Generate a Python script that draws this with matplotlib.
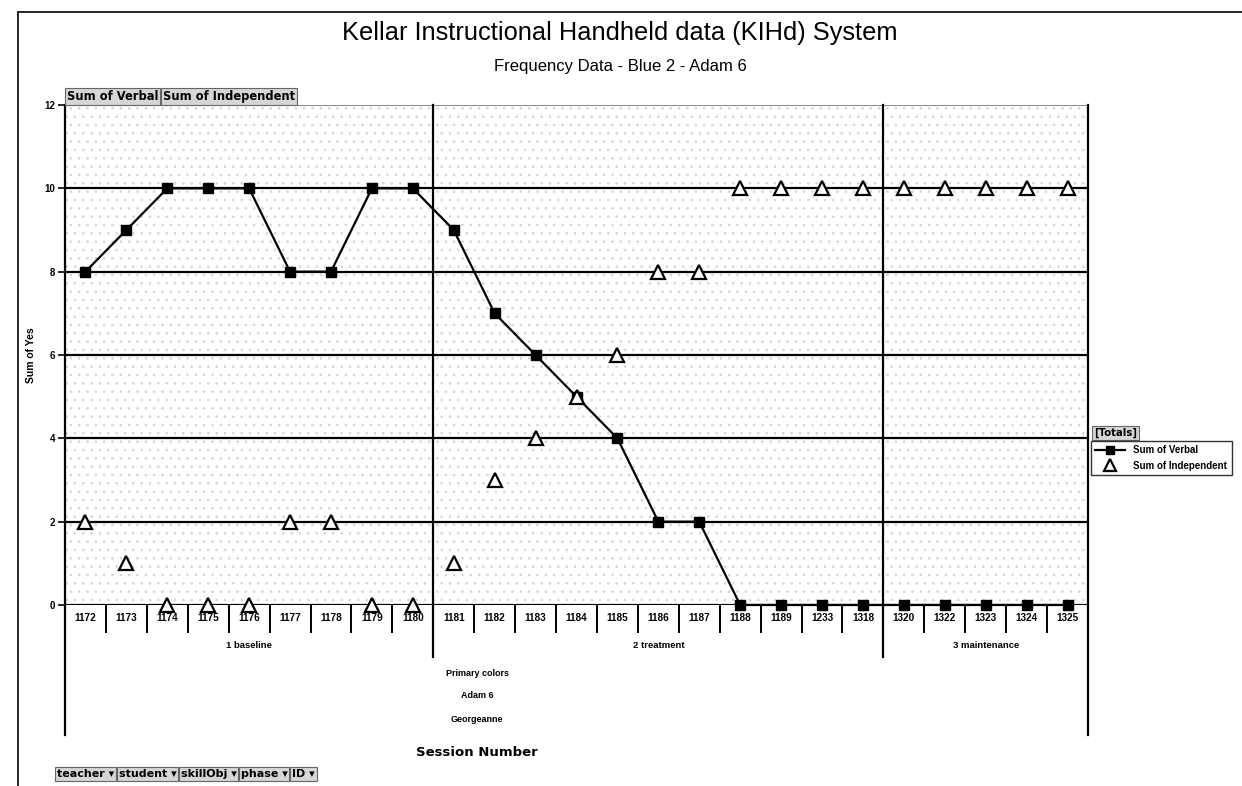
import matplotlib
matplotlib.use("Agg")
import matplotlib.pyplot as plt
from matplotlib.lines import Line2D
from matplotlib.patches import Rectangle
import matplotlib.transforms as mtransforms

plt.rcParams['font.family'] = ['Liberation Sans', 'DejaVu Sans']
plt.rcParams['hatch.linewidth'] = 0.6

# Datos
sesiones = ['1172', '1173', '1174', '1175', '1176', '1177', '1178', '1179', '1180',
            '1181', '1182', '1183', '1184', '1185', '1186', '1187', '1188', '1189',
            '1233', '1318', '1320', '1322', '1323', '1324', '1325']
fases = ['1 baseline', '2 treatment', '3 maintenance']
sesiones_por_fase = [9, 11, 5]
verbal = [8, 9, 10, 10, 10, 8, 8, 10, 10,
          9, 7, 6, 5, 4, 2, 2, 0, 0, 0, 0,
          0, 0, 0, 0, 0]
independiente = [2, 1, 0, 0, 0, 2, 2, 0, 0,
                 1, 3, 4, 5, 6, 8, 8, 10, 10, 10, 10,
                 10, 10, 10, 10, 10]
etiquetas_extra = ['Primary colors', 'Adam 6', 'Georgeanne']
y_ticks = [0, 2, 4, 6, 8, 10, 12]
botones_arriba = ['Sum of Verbal', 'Sum of Independent']
botones_abajo = ['teacher \u25be', 'student \u25be', 'skillObj \u25be', 'phase \u25be', 'ID \u25be']

W, H = 1242, 786
fig = plt.figure(figsize=(W / 100, H / 100), dpi=100)

# Convierte pixeles a coordenadas de figura
def fx(px):
    return px / W

def fy(py):
    return 1 - py / H

# Marco exterior
fig.add_artist(Line2D([fx(18), 1], [fy(12), fy(12)], color='black', lw=1.2))
fig.add_artist(Line2D([fx(18), fx(18)], [fy(12), 0], color='black', lw=1.2))

# Area del grafico
x0, x1, y0, y1 = 65, 1088, 105, 605
ax = fig.add_axes([fx(x0), fy(y1), fx(x1) - fx(x0), fy(y0) - fy(y1)])
n = len(sesiones)
ax.set_xlim(-0.5, n - 0.5)
ax.set_ylim(0, 12)
alto_px = y1 - y0

def ay(py):
    # pixel vertical -> coordenada de ejes
    return (y1 - py) / alto_px

# Fondo punteado (simula el fondo gris del Excel escaneado)
ax.add_patch(Rectangle((0, 0), 1, 1, transform=ax.transAxes, facecolor='white',
                       edgecolor='#d4d4d4', hatch='..', lw=0, zorder=0))

for s in ['top', 'right', 'left', 'bottom']:
    ax.spines[s].set_visible(False)

# Lineas de cuadricula horizontales
for v in [2, 4, 6, 8, 10]:
    ax.axhline(v, color='black', lw=1.6, zorder=1)
ax.axhline(12, color='#888888', lw=0.7, zorder=1)
ax.axhline(0, color='black', lw=1.6, zorder=1)

trans = mtransforms.blended_transform_factory(ax.transData, ax.transAxes)

# Lineas verticales de los bordes y separadores de fase
ax.plot([-0.5, -0.5], [1, ay(735)], transform=trans, color='black', lw=1.6, clip_on=False, zorder=2)
ax.plot([n - 0.5, n - 0.5], [1, ay(735)], transform=trans, color='black', lw=1.6, clip_on=False, zorder=2)
limites = []
acum = 0
for c in sesiones_por_fase[:-1]:
    acum += c
    limites.append(acum - 0.5)
for b in limites:
    ax.plot([b, b], [1, ay(657)], transform=trans, color='black', lw=1.6, clip_on=False, zorder=2)
for k in range(n - 1):
    b = k + 0.5
    if b in limites:
        continue
    ax.plot([b, b], [0, ay(632)], transform=trans, color='black', lw=1.4, clip_on=False, zorder=2)

# Etiquetas de sesion y fase
ax.set_xticks([])
for i, s in enumerate(sesiones):
    ax.text(i, ay(618), s, transform=trans, ha='center', va='center',
            fontsize=7.2, fontweight='bold')
inicio = 0
for f, c in zip(fases, sesiones_por_fase):
    ax.text(inicio + (c - 1) / 2, ay(645), f, transform=trans, ha='center', va='center',
            fontsize=6.8, fontweight='bold')
    inicio += c

for py, t in zip([673, 696, 719], etiquetas_extra):
    fig.text(fx(477), fy(py), t, ha='center', va='center', fontsize=6.5, fontweight='bold')
fig.text(fx(477), fy(752), 'Session Number', ha='center', va='center', fontsize=9.5,
         fontweight='bold', family='DejaVu Sans')

# Eje Y
ax.set_yticks(y_ticks)
ax.set_yticklabels([str(v) for v in y_ticks], fontsize=7, fontweight='bold')
ax.tick_params(axis='y', length=5, width=1.2, pad=2, direction='out')
fig.text(fx(31), fy(355), 'Sum of Yes', rotation=90, ha='center', va='center',
         fontsize=7.5, fontweight='bold')

# Series
xs = list(range(n))
ax.plot(xs, verbal, color='black', lw=1.6, marker='s', markersize=7,
        markerfacecolor='black', markeredgecolor='black', zorder=4, clip_on=False,
        label='Sum of Verbal')
ax.plot(xs, independiente, linestyle='none', marker='^', markersize=10,
        markerfacecolor='white', markeredgecolor='black', markeredgewidth=1.6,
        zorder=5, clip_on=False, label='Sum of Independent')

# Titulos
fig.text(fx(620), fy(33), 'Kellar Instructional Handheld data (KIHd) System',
         ha='center', va='center', fontsize=18.3)
fig.text(fx(620), fy(67), 'Frequency Data - Blue 2 - Adam 6',
         ha='center', va='center', fontsize=12)

# Botones de campos (tabla dinamica), uno pegado al otro
estilo_boton = dict(boxstyle='square,pad=0.15', facecolor='#d6d6d6', edgecolor='#666666', lw=0.8)
renderer = fig.canvas.get_renderer()

def fila_botones(textos, px_inicio, py_base, tam):
    x_actual = px_inicio
    for t in textos:
        # texto de referencia con ascendente y descendente para igualar alturas
        txt = fig.text(fx(x_actual), fy(py_base), t, ha='left', va='baseline', fontsize=tam,
                       fontweight='bold', family=['DejaVu Sans'], bbox=estilo_boton)
        txt.draw(renderer)
        ext = txt.get_bbox_patch().get_window_extent(renderer)
        x_actual += ext.width + 1

fila_botones(botones_arriba, 67, 100, 8.3)
fila_botones(botones_abajo, 57, 777, 8.0)

# Leyenda
fig.text(fx(1094), fy(436), '[Totals]', ha='left', va='baseline', fontsize=7.3,
         fontweight='bold', family='DejaVu Sans', bbox=estilo_boton)
leg = fig.legend(handles=ax.get_lines()[-2:], loc='upper left',
                 bbox_to_anchor=(fx(1091), fy(441)), frameon=True, fancybox=False,
                 edgecolor='black', prop={'size': 7, 'weight': 'bold'},
                 handlelength=3.0, borderpad=0.45, labelspacing=0.55, handletextpad=0.9,
                 borderaxespad=0, markerscale=0.8)
leg.get_frame().set_linewidth(1.0)

fig.savefig('out.png', dpi=100)
